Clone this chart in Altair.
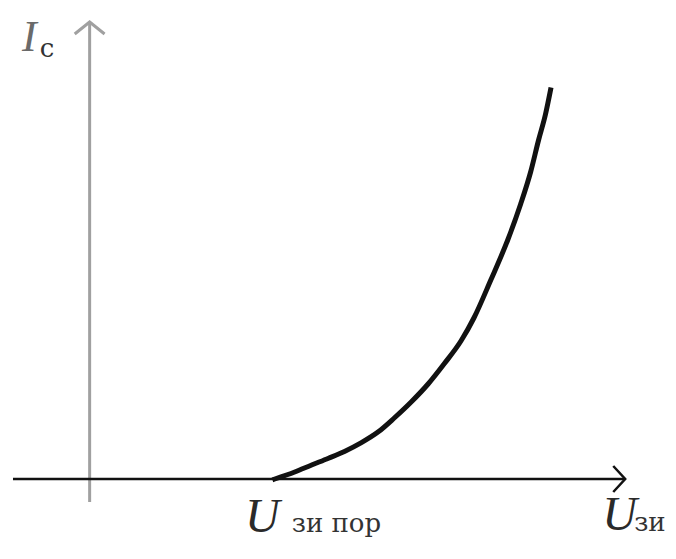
import altair as alt
import pandas as pd

# Transfer characteristic I_c(U_зи), arbitrary units
u_vals = [3.72, 4.12, 4.46, 4.80, 5.12, 5.46, 5.80, 6.12, 6.46, 6.80, 7.12, 7.46, 7.72, 8.06, 8.40, 8.66, 8.86, 9.02, 9.16, 9.26]
i_vals = [0.0, 0.175, 0.35, 0.52, 0.69, 0.91, 1.18, 1.525, 1.925, 2.375, 2.875, 3.45, 4.025, 4.975, 5.975, 6.875, 7.675, 8.475, 9.125, 9.725]

# Axis lines (drawn as arrows)
yaxis_u = [0, 0]
yaxis_i = [-0.575, 11.425]
yarrow_u = [-0.3, 0, 0.3]
yarrow_i = [11.125, 11.425, 11.125]
xaxis_u = [-1.54, 10.76]
xaxis_i = [0, 0]
xarrow_u = [10.52, 10.76, 10.52]
xarrow_i = [0.325, 0, -0.325]

# Labels
ylab_main = ["I"]
ylab_u = [-1.36]
ylab_i = [10.70]
xlab_main = ["U", "U"]
xlab_u = [3.12, 10.30]
xlab_i = [-1.325, -1.275]
sub_labels = ["с", "зи пор", "зи"]
sub_u = [-1.0, 4.06, 10.94]
sub_i = [10.55, -1.32, -1.30]

xs = alt.Scale(domain=[-1.58, 11.62], nice=False, zero=False)
ys = alt.Scale(domain=[-1.8, 11.775], nice=False, zero=False)

def line_df(u, i, g):
    return pd.DataFrame({"u": u, "i": i, "g": g, "o": list(range(len(u)))})

X = alt.X("u:Q", scale=xs, axis=None)
Y = alt.Y("i:Q", scale=ys, axis=None)

curve = alt.Chart(line_df(u_vals, i_vals, "c")).mark_line(
    color="#111111", strokeWidth=5, interpolate="monotone", strokeCap="square"
).encode(x=X, y=Y, order="o:Q")

yaxis = alt.Chart(pd.concat([line_df(yaxis_u, yaxis_i, "a"), line_df(yarrow_u, yarrow_i, "b")])).mark_line(
    color="#a0a0a0", strokeWidth=3
).encode(x=X, y=Y, detail="g:N", order="o:Q")

xaxis = alt.Chart(pd.concat([line_df(xaxis_u, xaxis_i, "a"), line_df(xarrow_u, xarrow_i, "b")])).mark_line(
    color="#111111", strokeWidth=2.5
).encode(x=X, y=Y, detail="g:N", order="o:Q")

ylab = alt.Chart(pd.DataFrame({"u": ylab_u, "i": ylab_i, "t": ylab_main})).mark_text(
    font="Liberation Serif", fontStyle="italic", fontSize=44, align="left", baseline="alphabetic", color="#6a6a6a"
).encode(x=X, y=Y, text="t:N")

xlab = alt.Chart(pd.DataFrame({"u": xlab_u, "i": xlab_i, "t": xlab_main})).mark_text(
    font="Liberation Serif", fontStyle="italic", fontSize=48, align="left", baseline="alphabetic", color="#2a2a2a"
).encode(x=X, y=Y, text="t:N")

subs = alt.Chart(pd.DataFrame({"u": sub_u, "i": sub_i, "t": sub_labels})).mark_text(
    font="DejaVu Serif", fontSize=26, align="left", baseline="alphabetic", color="#333333"
).encode(x=X, y=Y, text="t:N")

chart = alt.layer(yaxis, xaxis, curve, ylab, xlab, subs).properties(
    width=660, height=543,
    autosize=alt.AutoSizeParams(type="fit", contains="padding"),
    padding=0,
).configure_view(stroke=None)

chart.save("out.html", embed_options={"renderer": "svg", "actions": False})
